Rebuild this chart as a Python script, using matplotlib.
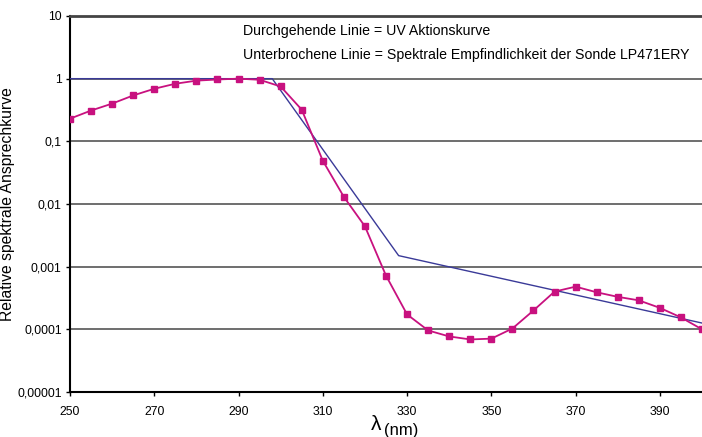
import matplotlib
matplotlib.use("Agg")
import matplotlib.pyplot as plt
from matplotlib.ticker import FixedLocator, NullLocator

plt.rcParams['font.family'] = ['Liberation Sans', 'DejaVu Sans']

# Probe spectral sensitivity (magenta, markers)
wl_probe = [250, 255, 260, 265, 270, 275, 280, 285, 290, 295, 300, 305, 310, 315,
            320, 325, 330, 335, 340, 345, 350, 355, 360, 365, 370, 375, 380, 385,
            390, 395, 400]
probe = [0.23, 0.31, 0.40, 0.54, 0.69, 0.83, 0.93, 0.97, 1.0, 0.96, 0.75, 0.32, 0.049,
         0.013, 0.0044, 0.00072, 0.000173, 0.000096, 0.000077, 0.000069, 0.000071,
         0.000103, 0.0002, 0.0004, 0.00048, 0.00039, 0.00033, 0.00029, 0.00022,
         0.000155, 0.0001]

# UV action curve (blue line)
wl_action = [250, 298, 328, 400]
action = [1.0, 1.0, 0.0015, 0.000126]

ytick_vals = [0.00001, 0.0001, 0.001, 0.01, 0.1, 1, 10]
ytick_labels = ['0,00001', '0,0001', '0,001', '0,01', '0,1', '1', '10']
xtick_vals = [250, 270, 290, 310, 330, 350, 370, 390]
xtick_labels = ['250', '270', '290', '310', '330', '350', '370', '390']

fig = plt.figure(figsize=(7.02, 4.37), dpi=100)
ax = fig.add_axes([70/702, 1-392/437, 632/702, (392-16)/437])

ax.plot(wl_action, action, color='#3a3a98', lw=1.0, zorder=3)
ax.plot(wl_probe, probe, color='#c8117f', lw=1.3, marker='s', ms=5,
        markerfacecolor='#c8117f', markeredgecolor='#c8117f', zorder=4)

ax.set_yscale('log')
ax.set_xlim(250, 400)
ax.set_ylim(0.00001, 10)
ax.yaxis.set_major_locator(FixedLocator(ytick_vals))
ax.yaxis.set_minor_locator(NullLocator())
ax.set_yticklabels(ytick_labels)
ax.set_xticks(xtick_vals)
ax.set_xticklabels(xtick_labels)

for v in ytick_vals[1:-1]:
    ax.axhline(v, color='#555555', lw=1.2, zorder=1)

ax.tick_params(axis='both', labelsize=8.8, length=3, width=1, color='black')
ax.tick_params(axis='x', pad=7)
ax.tick_params(axis='y', pad=3)

for s in ['left', 'bottom']:
    ax.spines[s].set_color('black')
    ax.spines[s].set_linewidth(1.5)
ax.spines['top'].set_color('#444444')
ax.spines['top'].set_linewidth(2)
ax.spines['right'].set_visible(False)

ax.set_ylabel('Relative spektrale Ansprechkurve', fontsize=11.3)
ax.yaxis.set_label_coords(-55/632, 0.5)

fig.text(376/702, 1-425/437, 'λ', fontsize=15, ha='center', va='center')
fig.text(384/702, 1-430/437, '(nm)', fontsize=12, ha='left', va='center')

fig.text(243/702, 1-31/437, 'Durchgehende Linie = UV Aktionskurve', fontsize=10.2,
         ha='left', va='center')
fig.text(243/702, 1-55/437, 'Unterbrochene Linie = Spektrale Empfindlichkeit der Sonde LP471ERY',
         fontsize=10.2, ha='left', va='center')

fig.savefig('out.png', dpi=100)
